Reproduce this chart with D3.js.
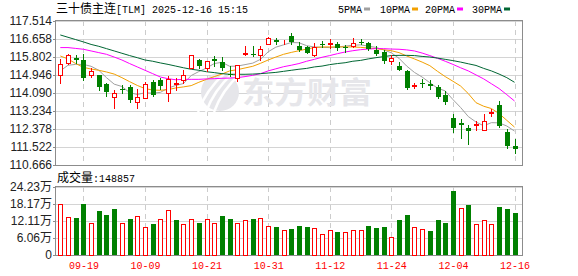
<!DOCTYPE html>
<html>
<head>
<meta charset="utf-8">
<script src="https://cdn.jsdelivr.net/npm/d3@7"></script>
<style>
    body { margin: 0; background: #fff; }
    text { font-family: "Liberation Sans", "Noto Sans CJK SC", sans-serif; }
</style>
</head>
<body>
<script>
// trading days, MM-DD
var dates = ["09-16","09-17","09-18","09-19","09-22","09-23","09-24","09-25","09-26","09-29",
             "09-30","10-09","10-10","10-13","10-14","10-15","10-16","10-17","10-20","10-21",
             "10-22","10-23","10-24","10-27","10-28","10-29","10-30","10-31","11-03","11-04",
             "11-05","11-06","11-07","11-10","11-11","11-12","11-13","11-14","11-17","11-18",
             "11-19","11-20","11-21","11-24","11-25","11-26","11-27","11-28","12-01","12-02",
             "12-03","12-04","12-05","12-08","12-09","12-10","12-11","12-12","12-15","12-16"];

var open  = [114.95,115.50,115.74,115.68,114.95,114.96,114.53,113.88,114.28,114.39,
             113.65,113.85,114.61,114.72,114.08,114.50,114.72,115.26,115.64,115.28,
             115.72,115.56,114.98,114.79,115.93,115.96,115.90,116.42,116.63,116.50,
             116.80,116.34,116.26,115.90,116.44,116.44,116.44,116.26,116.34,116.53,
             116.47,116.12,116.02,115.60,115.39,115.14,114.41,114.58,114.50,114.38,
             114.01,112.92,112.66,112.41,112.55,112.35,113.14,113.52,112.25,111.56];
var high  = [115.71,115.96,115.88,115.93,115.26,114.96,114.57,114.25,114.47,114.46,
             114.30,114.61,114.72,114.79,114.88,114.82,115.18,115.91,115.71,115.61,
             115.83,115.80,115.36,115.41,116.34,116.33,116.34,116.75,116.72,116.63,
             116.96,116.53,116.31,116.48,116.56,116.64,116.53,116.37,116.72,116.66,
             116.50,116.31,116.12,115.90,115.58,115.20,114.57,114.76,114.69,114.46,
             114.19,113.11,112.87,112.55,112.74,113.08,113.35,113.71,112.38,111.92];
var low   = [114.55,115.45,115.53,114.72,114.87,114.22,113.93,113.36,114.11,113.65,
             113.36,113.85,113.93,114.27,113.69,114.25,114.57,115.26,115.30,115.14,
             115.36,115.17,114.91,114.66,115.90,115.83,115.68,116.40,116.40,116.40,
             116.40,116.09,115.98,115.83,116.28,116.25,116.12,116.02,116.28,116.40,
             116.15,115.90,115.52,115.45,115.17,114.30,114.31,114.38,114.27,113.84,
             113.55,112.25,111.97,111.68,112.32,112.32,112.98,112.47,111.46,111.25];
var close = [115.49,115.90,115.64,114.82,115.15,114.36,114.12,114.09,114.25,113.74,
             113.92,114.52,114.00,114.44,114.74,114.57,114.95,115.91,115.36,115.61,
             115.61,115.26,114.95,115.41,115.99,115.93,116.18,116.72,116.53,116.53,
             116.50,116.14,115.98,116.26,116.40,116.48,116.21,116.23,116.48,116.48,
             116.18,115.93,115.61,115.77,115.20,114.31,114.46,114.50,114.41,113.92,
             113.65,112.44,112.57,112.28,112.60,112.76,113.19,112.51,111.56,111.41];
var prevClose = 115.10; // close of the day before the window

// volume, in 万 lots
var volume = [18.14,13.49,13.25,18.26,11.34,15.76,14.32,16.35,11.34,12.89,
              13.85, 9.91,11.10,12.77,15.99,12.53,10.98,12.77,11.46,12.77,
              11.34,13.97,12.89,11.34,12.41,12.89,13.13,10.26,10.03, 8.83,
               9.30,10.38,10.03, 9.55, 7.40, 8.83, 8.24, 8.12, 8.83, 8.83,
              10.38, 9.67,10.03, 6.33,12.53,14.32, 9.91, 9.19, 8.59,12.53,
              11.46,22.92,16.71,17.90,10.98,12.41,10.98,17.19,16.47,14.8857];

var ma5  = [115.14,115.41,115.45,115.45,115.36,115.17,114.82,114.51,114.40,114.11,
            114.02,114.10,114.08,114.12,114.32,114.45,114.54,114.92,115.11,115.28,
            115.49,115.55,115.36,115.37,115.44,115.51,115.69,116.05,116.27,116.38,
            116.49,116.48,116.34,116.28,116.26,116.25,116.27,116.32,116.36,116.38,
            116.32,116.26,116.14,116.00,115.74,115.37,115.07,114.85,114.58,114.32,
            114.19,113.78,113.40,112.97,112.71,112.53,112.68,112.67,112.52,112.28];
var ma10 = [115.85,115.71,115.49,115.31,115.23,115.17,115.09,114.99,114.82,114.63,
            114.45,114.30,114.23,114.22,114.25,114.33,114.38,114.44,114.60,114.74,
            114.87,114.99,115.14,115.20,115.28,115.36,115.50,115.66,115.80,115.93,
            116.02,116.10,116.18,116.25,116.28,116.28,116.28,116.28,116.28,116.26,
            116.23,116.20,116.15,116.10,116.01,115.85,115.71,115.56,115.39,115.12,
            114.87,114.65,114.42,114.06,113.63,113.46,113.35,113.11,112.79,112.47];
var ma20 = [116.25,116.25,116.21,116.17,116.09,116.01,115.93,115.80,115.66,115.49,
            115.33,115.17,115.01,114.85,114.77,114.72,114.74,114.74,114.74,114.76,
            114.77,114.79,114.80,114.82,114.87,114.93,115.01,115.14,115.24,115.34,
            115.41,115.49,115.60,115.69,115.79,115.87,115.96,116.04,116.10,116.15,
            116.18,116.20,116.20,116.18,116.17,116.14,116.09,115.99,115.87,115.74,
            115.60,115.45,115.29,115.14,114.95,114.76,114.53,114.30,114.01,113.71];
var ma30 = [116.85,116.74,116.63,116.52,116.40,116.31,116.20,116.09,115.98,115.87,
            115.77,115.66,115.60,115.52,115.45,115.37,115.29,115.22,115.17,115.10,
            115.06,115.01,114.98,114.98,114.98,114.99,115.01,115.04,115.07,115.12,
            115.17,115.22,115.26,115.33,115.37,115.44,115.49,115.53,115.60,115.64,
            115.71,115.77,115.82,115.87,115.88,115.88,115.87,115.83,115.80,115.75,
            115.69,115.63,115.56,115.48,115.40,115.26,115.14,114.99,114.82,114.60];

var priceTicks = [110.666,111.522,112.378,113.234,114.090,114.946,115.802,116.658,117.514];
var volTicks = [0, 6.06, 12.11, 18.17, 24.23];
var dateTicks = ["09-19","10-09","10-21","10-31","11-12","11-24","12-04","12-16"];

var maNames = ["5PMA","10PMA","20PMA","30PMA"];
var maColors = ["#a0a0a0","#f2a000","#ff00ff","#006633"];
var maData = [ma5, ma10, ma20, ma30];

var width = 578, height = 276;
var left = 56, right = 522;
var pTop = 21, pBottom = 165;
var vTop = 187, vBottom = 255;
var UP = "#ff0000", DOWN = "#008000";

var svg = d3.select("body").append("svg")
    .attr("width", width)
    .attr("height", height);

var x = d3.scalePoint().domain(dates).range([60.3, 514.5]);
var y = d3.scaleLinear().domain([110.666, 117.514]).range([pBottom, pTop]);
var yv = d3.scaleLinear().domain([0, 24.23]).range([vBottom, vTop]);

function cx(i) { return Math.round(x(dates[i])); }

// grid
var grid = svg.append("g").attr("shape-rendering", "crispEdges");
grid.selectAll(".hp").data(priceTicks).enter().append("line")
    .attr("x1", left).attr("x2", right)
    .attr("y1", d => Math.round(y(d)) + 0.5).attr("y2", d => Math.round(y(d)) + 0.5)
    .attr("stroke", "#d4d4d4");
grid.selectAll(".hv").data(volTicks).enter().append("line")
    .attr("x1", left).attr("x2", right)
    .attr("y1", d => Math.round(yv(d)) + 0.5).attr("y2", d => Math.round(yv(d)) + 0.5)
    .attr("stroke", "#d4d4d4");
dateTicks.forEach(function(d) {
    var xx = Math.round(x(d)) + 0.5;
    [[pTop, pBottom], [vTop, vBottom]].forEach(function(r) {
        grid.append("line")
            .attr("x1", xx).attr("x2", xx).attr("y1", r[0]).attr("y2", r[1])
            .attr("stroke", "#cccccc").attr("stroke-dasharray", "5,4");
    });
});

// watermark
var wm = svg.append("g").attr("fill", "#e6e6ea");
wm.append("circle").attr("cx", 220).attr("cy", 92).attr("r", 19);
[[-8, 0], [0, 0], [8, 0]].forEach(function(o) {
    wm.append("path")
        .attr("d", `M${206 + o[0]},${112} Q${214 + o[0]},${90} ${232 + o[0]},${74}`)
        .attr("fill", "none").attr("stroke", "#fff").attr("stroke-width", 2.5);
});
wm.append("text").attr("x", 242).attr("y", 103)
    .style("font-family", "Noto Sans CJK SC").style("font-weight", "bold")
    .style("font-size", "30px")
    .attr("textLength", 130).attr("lengthAdjust", "spacingAndGlyphs")
    .text("东方财富");

// borders
svg.append("rect").attr("x", left - 0.5).attr("y", pTop - 0.5)
    .attr("width", right - left + 1).attr("height", pBottom - pTop + 1)
    .attr("fill", "none").attr("stroke", "#8c8c8c").attr("shape-rendering", "crispEdges");
svg.append("rect").attr("x", left - 0.5).attr("y", vTop - 0.5)
    .attr("width", right - left + 1).attr("height", vBottom - vTop + 1)
    .attr("fill", "none").attr("stroke", "#8c8c8c").attr("shape-rendering", "crispEdges");

// moving averages
var line = d3.line().x((d, i) => x(dates[i])).y(d => y(d));
maData.forEach(function(s, k) {
    svg.append("path").datum(s)
        .attr("d", line)
        .attr("fill", "none")
        .attr("stroke", maColors[k])
        .attr("stroke-width", 1);
});

// candles
var idx = d3.range(dates.length);
var candles = svg.append("g").attr("shape-rendering", "crispEdges");
var c = candles.selectAll("g").data(idx).enter().append("g");
c.append("line")
    .attr("x1", i => cx(i) + 0.5).attr("x2", i => cx(i) + 0.5)
    .attr("y1", i => Math.round(y(high[i]))).attr("y2", i => Math.round(y(low[i])) + 1)
    .attr("stroke", i => close[i] >= open[i] ? UP : DOWN);
c.append("rect")
    .attr("x", i => close[i] >= open[i] ? cx(i) - 1.5 : cx(i) - 2)
    .attr("y", function(i) {
        var t = Math.round(y(Math.max(open[i], close[i])));
        return close[i] >= open[i] ? t + 0.5 : t;
    })
    .attr("width", i => close[i] >= open[i] ? 4 : 5)
    .attr("height", function(i) {
        var h = Math.round(y(Math.min(open[i], close[i]))) - Math.round(y(Math.max(open[i], close[i])));
        if (close[i] >= open[i]) return Math.max(h, 0);
        return Math.max(h, 1);
    })
    .attr("fill", i => close[i] >= open[i] ? "#fff" : DOWN)
    .attr("stroke", i => close[i] >= open[i] ? UP : "none");

// volume bars (colour by close vs previous close)
function volUp(i) { return close[i] >= (i === 0 ? prevClose : close[i - 1]); }
var vb = svg.append("g").attr("shape-rendering", "crispEdges");
vb.selectAll("rect").data(idx).enter().append("rect")
    .attr("x", i => volUp(i) ? cx(i) - 1.5 : cx(i) - 2)
    .attr("y", i => Math.round(yv(volume[i])) + (volUp(i) ? 0.5 : 0))
    .attr("width", i => volUp(i) ? 4 : 5)
    .attr("height", i => vBottom - Math.round(yv(volume[i])) - (volUp(i) ? 0.5 : 0))
    .attr("fill", i => volUp(i) ? "#fff" : DOWN)
    .attr("stroke", i => volUp(i) ? UP : "none");

// axes
var yAxis = svg.append("g")
    .attr("transform", `translate(${left},0)`)
    .call(d3.axisLeft(y).tickValues(priceTicks).tickFormat(d3.format(".3f")).tickSize(3).tickPadding(1));
var vAxis = svg.append("g")
    .attr("transform", `translate(${left},0)`)
    .call(d3.axisLeft(yv).tickValues(volTicks)
        .tickFormat(d => d === 0 ? "0" : d3.format(".2f")(d) + "万").tickSize(3).tickPadding(1));
[yAxis, vAxis].forEach(function(a) {
    a.select(".domain").remove();
    a.selectAll("line").attr("stroke", "#8c8c8c");
    a.selectAll("text").attr("fill", "#222").style("font-size", "12px")
        .style("font-family", "'Liberation Sans', 'Noto Sans CJK SC', sans-serif");
});

var xAxis = svg.append("g")
    .attr("transform", `translate(0,${vBottom})`)
    .call(d3.axisBottom(x).tickValues(dateTicks).tickSize(0).tickPadding(7));
xAxis.select(".domain").remove();
xAxis.selectAll("text").attr("fill", "#ff0000").style("font-size", "10px")
    .style("font-family", "'Liberation Mono', monospace");

// title and legend
var title = svg.append("text").attr("x", 56).attr("y", 13).attr("fill", "#000");
title.append("tspan").style("font-family", "Noto Sans CJK SC").style("font-size", "12px").text("三十债主连");
title.append("tspan").style("font-family", "Liberation Mono").style("font-size", "10px").text("[TLM] 2025-12-16 15:15");

var legX = [338, 380, 425, 472];
maNames.forEach(function(n, k) {
    var t = svg.append("text").attr("x", legX[k]).attr("y", 12.5)
        .style("font-family", "Liberation Mono").style("font-size", "10px")
        .attr("fill", "#000").text(n);
    var w = t.node().getComputedTextLength();
    svg.append("rect").attr("x", legX[k] + w + 2).attr("y", 7.5)
        .attr("width", 6).attr("height", 3).attr("fill", maColors[k]);
});

var vt = svg.append("text").attr("x", 57).attr("y", 182).attr("fill", "#000");
vt.append("tspan").style("font-family", "Noto Sans CJK SC").style("font-size", "12px").text("成交量");
vt.append("tspan").style("font-family", "Liberation Mono").style("font-size", "10px").text(":148857");
</script>
</body>
</html>
